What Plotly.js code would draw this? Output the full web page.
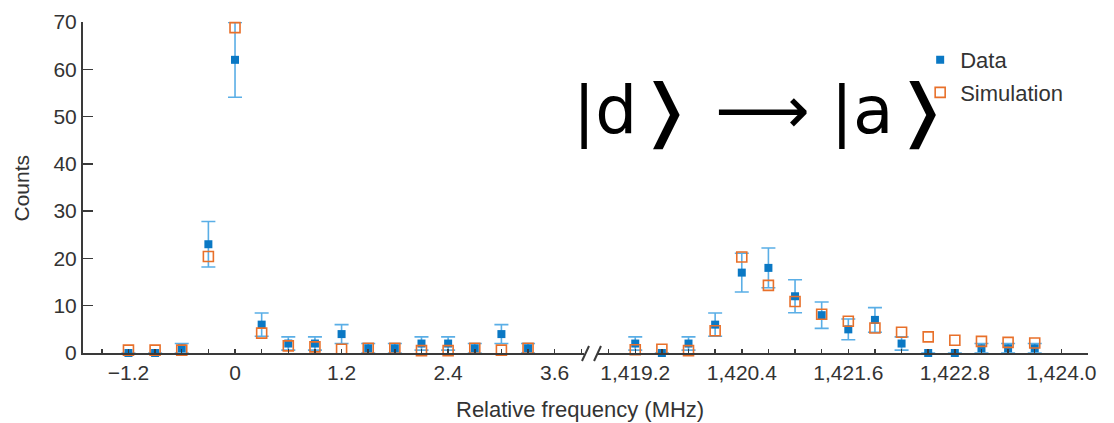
<!DOCTYPE html>
<html>
<head>
<meta charset="utf-8">
<script src="https://cdn.plot.ly/plotly-3.0.1.min.js"></script>
<style>
  html, body { margin: 0; padding: 0; background: #fff; }
  #chart { width: 1114px; height: 423px; }
</style>
</head>
<body>
<div id="chart"></div>
<script>
// Low-frequency window (relative frequency, MHz)
const leftFreq = [-1.2, -0.9, -0.6, -0.3, 0, 0.3, 0.6, 0.9, 1.2, 1.5, 1.8, 2.1, 2.4, 2.7, 3.0, 3.3];
const leftCounts = [0, 0, 1, 23, 62, 6, 2, 2, 4, 1, 1, 2, 2, 1, 4, 1];
const leftErr = [0, 0, 1, 4.8, 7.9, 2.45, 1.4, 1.4, 2, 1, 1, 1.4, 1.4, 1, 2, 1];
const leftSim = [0.6, 0.6, 0.6, 20.4, 68.8, 4.2, 1.5, 1.3, 0.8, 1, 1, 0.5, 0.5, 1, 0.6, 1];

// High-frequency window
const rightFreq = [1419.2, 1419.5, 1419.8, 1420.1, 1420.4, 1420.7, 1421.0, 1421.3, 1421.6, 1421.9, 1422.2, 1422.5, 1422.8, 1423.1, 1423.4, 1423.7];
const rightCounts = [2, 0, 2, 6, 17, 18, 12, 8, 5, 7, 2, 0, 0, 1, 1, 1];
const rightErr = [1.4, 0, 1.4, 2.45, 4.1, 4.2, 3.5, 2.8, 2.2, 2.6, 1.4, 0, 0, 1, 1, 1];
const rightSim = [0.7, 0.8, 0.5, 4.7, 20.3, 14.3, 10.9, 8.2, 6.7, 5.3, 4.4, 3.4, 2.7, 2.45, 2.25, 2.1];

// Tick labels
const leftTickVals = [-1.2, 0, 1.2, 2.4, 3.6];
const leftTickText = ['\u22121.2', '0', '1.2', '2.4', '3.6'];
const rightTickVals = [1419.2, 1420.4, 1421.6, 1422.8, 1424.0];
const rightTickText = ['1,419.2', '1,420.4', '1,421.6', '1,422.8', '1,424.0'];
const yTickVals = [0, 10, 20, 30, 40, 50, 60, 70];

const seriesNames = ['Data', 'Simulation'];
// transition label: |d> -> |a>
const ket = s => '|' + s + '<span style="font-size:68px">\u276D</span>';
const titleText = ket('d') + ' \u27F6 ' + ket('a');

const FONT = 'Liberation Sans, Arial, Helvetica, sans-serif';
const BLUE = '#0a78c4';
const LIGHTBLUE = '#5aaee6';
const ORANGE = '#e8702a';
const AXIS = '#3a3a3a';

function dataTrace(x, y, err, xa, show) {
  return {
    type: 'scatter', mode: 'markers', x: x, y: y, xaxis: xa, yaxis: 'y',
    name: seriesNames[0], showlegend: show, legendgroup: 'd',
    cliponaxis: false,
    marker: { symbol: 'square', size: 8, color: BLUE },
    error_y: { type: 'data', array: err, visible: true, color: LIGHTBLUE, thickness: 1.6, width: 7 }
  };
}
function simTrace(x, y, xa, show) {
  return {
    type: 'scatter', mode: 'markers', x: x, y: y, xaxis: xa, yaxis: 'y',
    name: seriesNames[1], showlegend: show, legendgroup: 's',
    cliponaxis: false,
    marker: { symbol: 'square-open', size: 10, color: ORANGE, line: { width: 1.6, color: ORANGE } }
  };
}

const traces = [
  dataTrace(leftFreq, leftCounts, leftErr, 'x', true),
  simTrace(leftFreq, leftSim, 'x', true),
  dataTrace(rightFreq, rightCounts, rightErr, 'x2', false),
  simTrace(rightFreq, rightSim, 'x2', false)
];

const xCommon = {
  showline: true, linecolor: AXIS, linewidth: 2,
  ticks: 'inside', ticklen: 4, tickwidth: 1.5, tickcolor: AXIS,
  tickmode: 'array', showgrid: false, zeroline: false,
  tickfont: { family: FONT, size: 21, color: '#333' },
  minor: { ticks: 'inside', ticklen: 4, tickwidth: 1.5, tickcolor: AXIS, showgrid: false }
};

const layout = {
  width: 1114, height: 423,
  margin: { l: 83, r: 26, t: 22, b: 70 },
  paper_bgcolor: '#fff', plot_bgcolor: '#fff',
  font: { family: FONT, color: '#333' },
  showlegend: true,
  legend: {
    x: 0.833, y: 0.9486, xanchor: 'left', yanchor: 'top',
    bgcolor: 'rgba(0,0,0,0)', tracegroupgap: 1,
    font: { family: FONT, size: 22, color: '#333' }
  },
  xaxis: Object.assign({}, xCommon, {
    domain: [0, 0.4985], range: [-1.712, 3.93], anchor: 'y',
    tickvals: leftTickVals, ticktext: leftTickText,
    minor: Object.assign({}, xCommon.minor, { tick0: 0, dtick: 0.3 })
  }),
  xaxis2: Object.assign({}, xCommon, {
    domain: [0.5124, 1], range: [1418.78, 1424.3], anchor: 'y',
    tickvals: rightTickVals, ticktext: rightTickText,
    minor: Object.assign({}, xCommon.minor, { tick0: 1419.2, dtick: 0.3 })
  }),
  yaxis: {
    range: [0, 70], anchor: 'x',
    showline: true, linecolor: AXIS, linewidth: 2,
    ticks: 'inside', ticklen: 10, tickwidth: 1.5, tickcolor: AXIS,
    tickmode: 'array', tickvals: yTickVals,
    showgrid: false, zeroline: false,
    tickfont: { family: FONT, size: 21, color: '#333' }
  },
  annotations: [
    { text: 'Relative frequency (MHz)', xref: 'paper', yref: 'paper', x: 0.4945, y: -0.172,
      xanchor: 'center', yanchor: 'middle', showarrow: false,
      font: { family: FONT, size: 22, color: '#333' } },
    { text: 'Counts', xref: 'paper', yref: 'paper', x: -0.0607, y: 0.5, textangle: -90,
      xanchor: 'center', yanchor: 'middle', showarrow: false,
      font: { family: FONT, size: 21, color: '#333' } },
    { text: titleText, xref: 'paper', yref: 'paper', x: 0.6756, y: 0.734,
      xanchor: 'center', yanchor: 'middle', showarrow: false,
      font: { family: 'DejaVu Sans, sans-serif', size: 66, color: '#000' } }
  ],
  shapes: [
    // axis break marks
    { type: 'line', xref: 'paper', yref: 'paper', x0: 0.4965, y0: -0.0242, x1: 0.5035, y1: 0.0211,
      line: { color: AXIS, width: 2 } },
    { type: 'line', xref: 'paper', yref: 'paper', x0: 0.5085, y0: -0.0242, x1: 0.5154, y1: 0.0211,
      line: { color: AXIS, width: 2 } }
  ]
};

Plotly.newPlot('chart', traces, layout, { displayModeBar: false, staticPlot: true });
</script>
</body>
</html>
